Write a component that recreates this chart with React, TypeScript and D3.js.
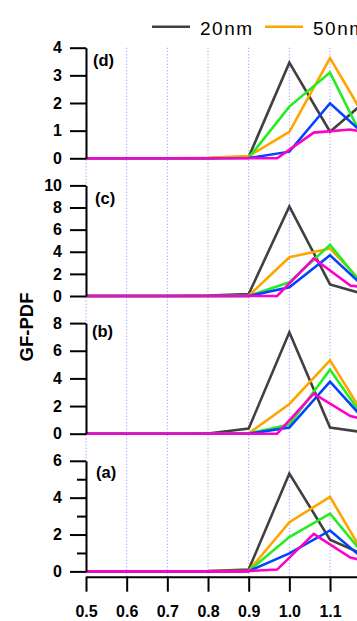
import { useRef, useEffect } from 'react';
import * as d3 from 'd3';

// GF bins (the 200nm series sits on a slightly shifted grid)
const gfBins = [0.5, 0.6, 0.7, 0.8, 0.9, 1.0, 1.1, 1.2];
const gfBins200 = [0.5, 0.61, 0.7, 0.79, 0.88, 0.97, 1.06, 1.15, 1.24];
const gridTicks = [0.5, 0.6, 0.7, 0.8, 0.9, 1.0, 1.1, 1.2];
const xTicks = [0.5, 0.6, 0.7, 0.8, 0.9, 1.0, 1.1];

const sizes = ['20nm', '50nm', '100nm', '150nm', '200nm'];
const legendSizes = ['20nm', '50nm'];
const colors = ['#404040', '#ffa500', '#22ee22', '#0044ff', '#ff00cc'];

const panelNames = ['(d)', '(c)', '(b)', '(a)'];
const panelMax = [4, 10, 8, 6];
const panelStep = [1, 2, 2, 2];
const panelMinorStep = [0, 0, 0, 1];

// series order: 20nm, 50nm, 100nm, 150nm, 200nm
const panelD = [
  [0, 0, 0, 0, 0.05, 3.46, 0.96, 2.23],
  [0, 0, 0, 0.02, 0.08, 0.96, 3.62, 1.13],
  [0, 0, 0, 0, 0.02, 1.87, 3.1, 0.15],
  [0, 0, 0, 0, 0.01, 0.24, 1.99, 0.65],
  [0, 0, 0, 0, 0, 0, 0.93, 1.04, 0.8],
];
const panelC = [
  [0, 0, 0, 0.03, 0.18, 8.1, 1.05, 0],
  [0, 0, 0, 0, 0.02, 3.5, 4.3, 0.4],
  [0, 0, 0, 0, 0.01, 1.24, 4.63, 0.1],
  [0, 0, 0, 0, 0, 0.78, 3.68, 0.27],
  [0, 0, 0, 0, 0, 0, 3.4, 0.95, 0.5],
];
const panelB = [
  [0, 0, 0, 0.02, 0.37, 7.34, 0.45, 0.02],
  [0, 0, 0, 0, 0.02, 2.15, 5.3, 0.55],
  [0, 0, 0, 0, 0.01, 0.66, 4.62, 0.42],
  [0, 0, 0, 0, 0, 0.44, 3.77, 0.5],
  [0, 0, 0, 0, 0, 0, 2.9, 1.28, 0.6],
];
const panelA = [
  [0, 0, 0, 0.02, 0.1, 5.31, 1.72, 0.75],
  [0, 0, 0, 0, 0.03, 2.67, 4.04, 0.3],
  [0, 0, 0, 0, 0.02, 1.86, 3.13, 0.47],
  [0, 0, 0, 0, 0.01, 0.98, 2.22, 0.35],
  [0, 0, 0, 0, 0, 0.1, 2.04, 0.75, 0.3],
];
const panels = [panelD, panelC, panelB, panelA];

const W = 357;
const H = 621;
const FONT = 'Arial, "Liberation Sans", Helvetica, sans-serif';

// panel label offsets (x, baseline below panel top)
const labelPos = [[93, 18.5], [95, 18.5], [92, 14], [96, 17.5]];

export default function App() {
  const svgRef = useRef<SVGSVGElement>(null);

  useEffect(() => {
    const svg = d3.select(svgRef.current);
    svg.selectAll('*').remove();

    const x = d3.scaleLinear().domain([0.5, 1.2]).range([86, 370.7]);
    const top0 = 47.7;
    const pitch = 137.7;
    const panelH = 110.6;
    const xAxisY = 576.7;

    // dotted vertical grid
    svg.append('g')
      .selectAll('line')
      .data(gridTicks)
      .join('line')
      .attr('x1', (d) => x(d)).attr('x2', (d) => x(d))
      .attr('y1', top0).attr('y2', xAxisY)
      .attr('stroke', '#9a9aff')
      .attr('stroke-width', 1)
      .attr('stroke-dasharray', '1.2,2');

    panels.forEach((series, i) => {
      const top = top0 + i * pitch;
      const y = d3.scaleLinear().domain([0, panelMax[i]]).range([top + panelH, top]);
      const g = svg.append('g');

      // data lines
      series.forEach((vals, s) => {
        const xs = s === 4 ? gfBins200 : gfBins;
        const line = d3.line<number>()
          .x((_, k) => x(xs[k]))
          .y((v) => y(v));
        g.append('path')
          .attr('d', line(vals) || '')
          .attr('fill', 'none')
          .attr('stroke', colors[s])
          .attr('stroke-width', 2.6);
      });

      // y axis
      const ticks = d3.range(0, panelMax[i] + 0.001, panelStep[i]);
      const ax = g.append('g')
        .attr('transform', 'translate(86,0)')
        .call(d3.axisLeft(y).tickValues(ticks).tickSize(16).tickSizeOuter(0).tickPadding(8).tickFormat(d3.format('d')));
      if (panelMinorStep[i]) {
        const minors = d3.range(panelMinorStep[i], panelMax[i], panelStep[i]);
        g.append('g')
          .attr('transform', 'translate(86,0)')
          .call(d3.axisLeft(y).tickValues(minors).tickSize(9).tickSizeOuter(0).tickFormat(() => ''))
          .call((a) => a.select('.domain').remove())
          .selectAll('line').attr('stroke', '#000').attr('stroke-width', 2);
      }
      ax.select('.domain').attr('stroke', '#000').attr('stroke-width', 2);
      ax.selectAll('.tick line').attr('stroke', '#000').attr('stroke-width', 2);
      ax.selectAll('text')
        .attr('font-family', FONT)
        .attr('font-size', 16)
        .attr('font-weight', 700)
        .attr('fill', '#000');

      g.append('text')
        .attr('x', labelPos[i][0])
        .attr('y', top + labelPos[i][1])
        .attr('font-family', FONT)
        .attr('font-size', 16.5)
        .attr('font-weight', 700)
        .text(panelNames[i]);
    });

    // x axis
    const xa = svg.append('g')
      .attr('transform', `translate(0,${xAxisY})`)
      .call(d3.axisBottom(x).tickValues(xTicks).tickSize(15).tickSizeOuter(0).tickPadding(14).tickFormat(d3.format('.1f')));
    xa.select('.domain').attr('stroke', '#000').attr('stroke-width', 2);
    xa.selectAll('.tick line').attr('stroke', '#000').attr('stroke-width', 2);
    xa.selectAll('text')
      .attr('font-family', FONT)
      .attr('font-size', 16)
      .attr('font-weight', 700)
      .attr('fill', '#000');

    // y label
    svg.append('text')
      .attr('transform', 'translate(33,327) rotate(-90)')
      .attr('text-anchor', 'middle')
      .attr('font-family', FONT)
      .attr('font-size', 18.5)
      .attr('font-weight', 700)
      .text('GF-PDF');

    // legend
    const lg = svg.append('g');
    legendSizes.forEach((name, i) => {
      const lx = 152 + i * 113;
      const c = colors[sizes.indexOf(name)];
      lg.append('line')
        .attr('x1', lx).attr('x2', lx + 38)
        .attr('y1', 26.7).attr('y2', 26.7)
        .attr('stroke', c)
        .attr('stroke-width', 2.6);
      lg.append('text')
        .attr('x', lx + 48)
        .attr('y', 35)
        .attr('font-family', FONT)
        .attr('font-size', 19)
        .attr('letter-spacing', 1.5)
        .attr('fill', '#000')
        .text(name);
    });
  }, []);

  return (
    <svg
      ref={svgRef}
      width={W}
      height={H}
      style={{ position: 'absolute', left: 0, top: 0, display: 'block', overflow: 'hidden', background: '#fff' }}
    />
  );
}
